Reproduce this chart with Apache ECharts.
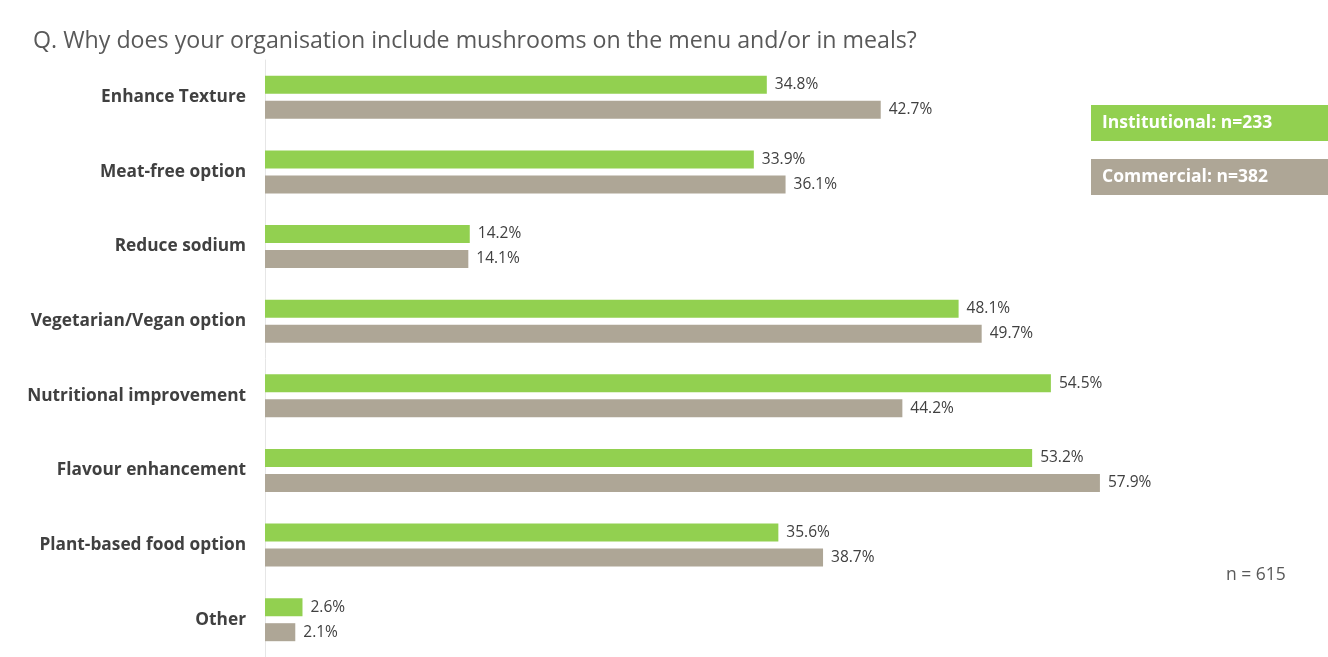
<!DOCTYPE html>
<html>
<head>
<meta charset="utf-8">
<script src="https://cdn.jsdelivr.net/npm/echarts@6/dist/echarts.min.js"></script>
<style>
  html, body { margin: 0; padding: 0; background: #ffffff; }
  #chart { width: 1328px; height: 657px; }
</style>
</head>
<body>
<div id="chart"></div>
<script>
// Reasons for including mushrooms, by sector (percent of respondents)
const categories = [
  'Enhance Texture',
  'Meat-free option',
  'Reduce sodium',
  'Vegetarian/Vegan option',
  'Nutritional improvement',
  'Flavour enhancement',
  'Plant-based food option',
  'Other'
];
const institutional = [34.8, 33.9, 14.2, 48.1, 54.5, 53.2, 35.6, 2.6];
const commercial = [42.7, 36.1, 14.1, 49.7, 44.2, 57.9, 38.7, 2.1];
const seriesNames = ['Institutional: n=233', 'Commercial: n=382'];
const titleText = 'Q. Why does your organisation include mushrooms on the menu and/or in meals?';
const totalText = 'n = 615';

const GREEN = '#92d050';
const TAUPE = '#aea696';
const FONT = '"Open Sans", Lato, sans-serif';

const chart = echarts.init(document.getElementById('chart'), null, { renderer: 'canvas' });

const valueLabel = {
  show: true,
  position: 'right',
  distance: 8,
  fontFamily: FONT,
  fontSize: 15.5,
  color: '#404040',
  formatter: p => p.value.toFixed(1) + '%'
};

chart.setOption({
  backgroundColor: '#ffffff',
  animation: false,
  grid: { left: 265, top: 60, width: 865.2, height: 600, containLabel: false },
  xAxis: {
    type: 'value',
    min: 0,
    max: 60,
    show: false
  },
  yAxis: {
    type: 'category',
    data: categories,
    inverse: true,
    axisTick: { show: false },
    axisLine: { show: true, lineStyle: { color: '#e6e6e6', width: 1 } },
    axisLabel: {
      margin: 19,
      padding: [3, 0, 0, 0],
      fontFamily: FONT,
      fontWeight: 'bold',
      fontSize: 17.3,
      color: '#404040'
    }
  },
  series: [
    {
      name: seriesNames[0],
      type: 'bar',
      data: institutional,
      barWidth: 18,
      barGap: '39%',
      itemStyle: { color: GREEN },
      label: valueLabel
    },
    {
      name: seriesNames[1],
      type: 'bar',
      data: commercial,
      barWidth: 18,
      barGap: '39%',
      itemStyle: { color: TAUPE },
      label: valueLabel
    }
  ],
  graphic: [
    {
      type: 'text',
      left: 33,
      top: 30,
      style: { text: titleText, fontFamily: FONT, fontSize: 23.2, fill: '#595959' }
    },
    {
      type: 'rect',
      shape: { x: 1091, y: 105, width: 237, height: 36 },
      style: { fill: GREEN }
    },
    {
      type: 'text',
      x: 1102, y: 123,
      style: { text: seriesNames[0], fontFamily: FONT, fontWeight: 'bold', fontSize: 17.5, fill: '#ffffff', verticalAlign: 'middle' }
    },
    {
      type: 'rect',
      shape: { x: 1091, y: 159, width: 237, height: 36 },
      style: { fill: TAUPE }
    },
    {
      type: 'text',
      x: 1102, y: 177,
      style: { text: seriesNames[1], fontFamily: FONT, fontWeight: 'bold', fontSize: 17.5, fill: '#ffffff', verticalAlign: 'middle' }
    },
    {
      type: 'text',
      x: 1226, y: 575,
      style: { text: totalText, fontFamily: FONT, fontSize: 17.5, fill: '#595959', verticalAlign: 'middle' }
    }
  ]
});
</script>
</body>
</html>
